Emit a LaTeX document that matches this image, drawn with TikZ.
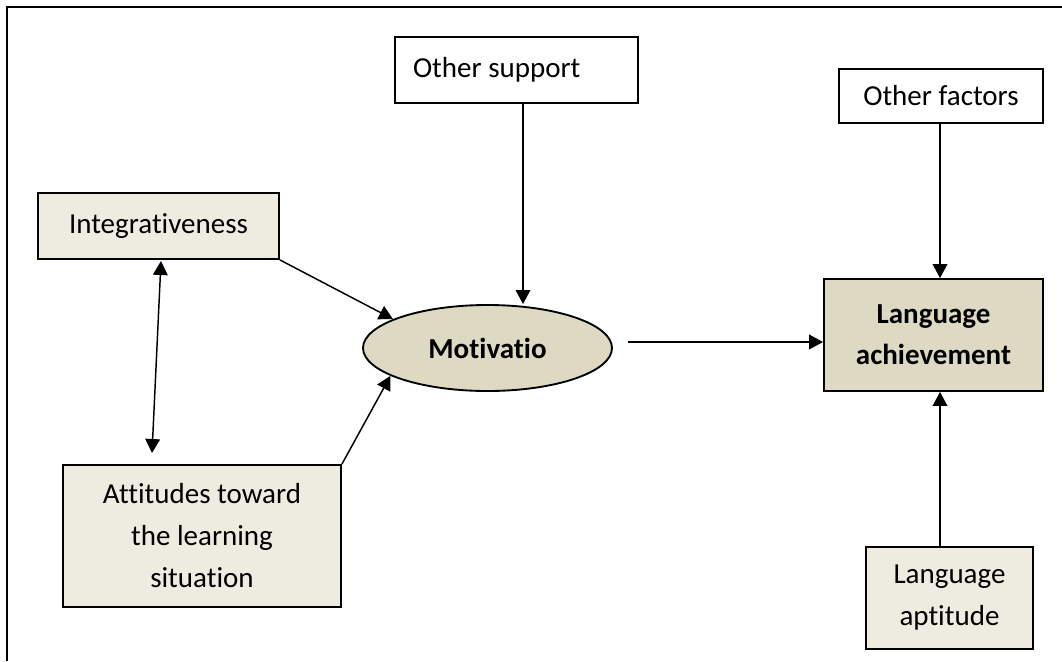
\documentclass[tikz,border=0pt]{standalone}
\usepackage{fontspec}
\setmainfont{Carlito}[Ligatures={NoCommon}]
\usetikzlibrary{arrows.meta,shapes.geometric}
\definecolor{lightbeige}{HTML}{EEECE1}
\definecolor{darkbeige}{HTML}{DDD9C3}
\begin{document}
\begin{tikzpicture}[x=0.75pt,y=-0.75pt,
  every node/.style={font=\fontsize{21.75pt}{31.5pt}\selectfont},
  box/.style={draw=black,line width=1.4pt,rectangle,inner sep=0pt,align=center},
  conn/.style={line width=1.1pt,-{Triangle[length=10.5pt,width=11pt]}},
  bidir/.style={line width=1.1pt,{Triangle[length=10.5pt,width=11pt]}-{Triangle[length=10.5pt,width=11pt]}}]
\useasboundingbox (0,0) rectangle (1062,661);
% frame
\draw[line width=1.9pt] (7,661) -- (7,7) -- (1062,7);
% nodes
\node[box,fill=lightbeige,minimum width=180.75pt,minimum height=49.5pt] (int) at (158.5,226) {Integrativeness};
\node[box,fill=white,minimum width=182.25pt,minimum height=49.5pt] (os) at (516.5,70) {\makebox[155.25pt][l]{Other support}};
\node[box,fill=white,minimum width=153pt,minimum height=40.5pt] (of) at (941,96) {Other factors};
\node[box,fill=darkbeige,minimum width=164.25pt,minimum height=84pt,font=\fontsize{21.75pt}{31pt}\selectfont\bfseries] (la) at (933.5,335) {Language\\achievement};
\node[box,fill=lightbeige,minimum width=125.25pt,minimum height=76.5pt] (apt) at (949.5,598) {Language\\aptitude};
\node[box,fill=lightbeige,minimum width=208.5pt,minimum height=106.5pt] (att) at (202,536) {Attitudes toward\\the learning\\situation};
\node[draw=black,line width=1.4pt,ellipse,fill=darkbeige,inner sep=0pt,minimum width=186.75pt,minimum height=64.5pt,font=\fontsize{21.75pt}{31.5pt}\selectfont\bfseries] (mot) at (487.5,348) {Motivatio};
% connector ends
\coordinate (bTop) at (161,261);
\coordinate (bBot) at (152,453);
\coordinate (osS) at (523,103);
\coordinate (osTip) at (523,304);
\coordinate (mR) at (628,342);
% connectors
\draw[conn] (int.south east) -- (mot.163);
\draw[conn] (att.north east) -- (mot.196);
\draw[bidir] (bTop) -- (bBot);
\draw[conn] (osS) -- (osTip);
\draw[conn] (mR) -- (mR -| la.west);
\draw[conn] (of.south -| 940,0) -- (la.north -| 940,0);
\draw[conn] (apt.north -| 940,0) -- (la.south -| 940,0);
\end{tikzpicture}
\end{document}
